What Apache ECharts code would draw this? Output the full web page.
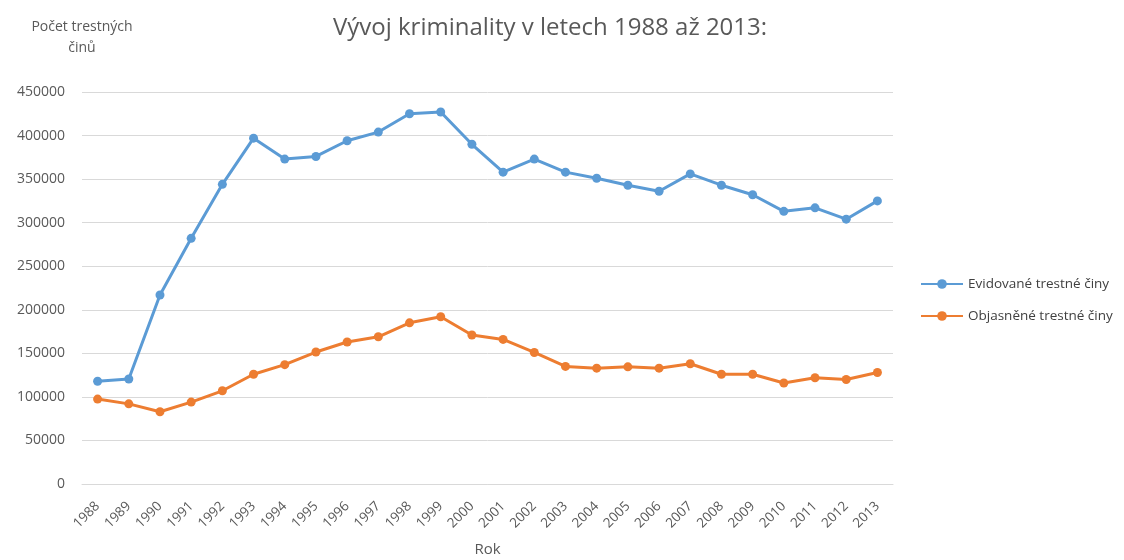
<!DOCTYPE html>
<html>
<head>
<meta charset="utf-8">
<script src="https://cdn.jsdelivr.net/npm/echarts@6/dist/echarts.min.js"></script>
<style>html,body{margin:0;padding:0;background:#fff}#c{width:1124px;height:560px}</style>
</head>
<body>
<div id="c"></div>
<script>
const years = ['1988','1989','1990','1991','1992','1993','1994','1995','1996','1997','1998','1999','2000','2001','2002','2003','2004','2005','2006','2007','2008','2009','2010','2011','2012','2013'];
const evidovane = [118000,120500,217000,282000,344000,397000,373000,376000,394000,404000,425000,427000,390000,358000,373000,358000,351000,343000,336000,356000,343000,332000,313000,317000,304000,325000];
const objasnene = [97500,92000,83000,94000,107000,126000,137000,151500,163000,169000,185000,192000,171000,166000,151000,135000,133000,134500,133000,138000,126000,126000,116000,122000,120000,128000];
const seriesNames = ['Evidované trestné činy','Objasněné trestné činy'];

const font = "'Open Sans', 'DejaVu Sans', sans-serif";
const chart = echarts.init(document.getElementById('c'));
chart.setOption({
  animation: false,
  textStyle: {fontFamily: font},
  title: {
    text: 'Vývoj kriminality v letech 1988 až 2013:',
    left: 545, top: 11, textAlign: 'center',
    textStyle: {fontFamily: font, fontSize: 24, fontWeight: 'normal', color: '#595959'}
  },
  legend: {
    orient: 'vertical', left: 915, top: 272, itemGap: 18,
    itemWidth: 42, itemHeight: 12,
    textStyle: {fontFamily: font, fontSize: 13.5, color: '#404040'},
    data: seriesNames
  },
  grid: {left: 82, right: 231, top: 92, bottom: 76, outerBoundsMode: 'none', containLabel: false},
  xAxis: {
    type: 'category', data: years, boundaryGap: true,
    name: 'Rok', nameLocation: 'middle', nameGap: 58,
    nameTextStyle: {fontFamily: font, fontSize: 15, color: '#595959'},
    axisLine: {lineStyle: {color: '#d9d9d9'}},
    axisTick: {show: false},
    axisLabel: {rotate: 45, interval: 0, fontSize: 13.5, color: '#595959', margin: 20}
  },
  yAxis: {
    type: 'value', min: 0, max: 450000, interval: 50000,
    name: 'Počet trestných\nčinů', nameLocation: 'end', nameGap: 33,
    nameTextStyle: {fontFamily: font, fontSize: 14, color: '#595959', align: 'center', lineHeight: 21},
    axisLine: {show: false}, axisTick: {show: false},
    axisLabel: {fontSize: 14, color: '#595959', margin: 17, formatter: function (v) { return String(v); }},
    splitLine: {lineStyle: {color: '#d9d9d9'}}
  },
  series: [
    {name: seriesNames[0], type: 'line', data: evidovane, symbol: 'circle', symbolSize: 9,
     itemStyle: {color: '#5B9BD5'}, lineStyle: {width: 3, color: '#5B9BD5'}},
    {name: seriesNames[1], type: 'line', data: objasnene, symbol: 'circle', symbolSize: 9,
     itemStyle: {color: '#ED7D31'}, lineStyle: {width: 3, color: '#ED7D31'}}
  ]
});
</script>
</body>
</html>
